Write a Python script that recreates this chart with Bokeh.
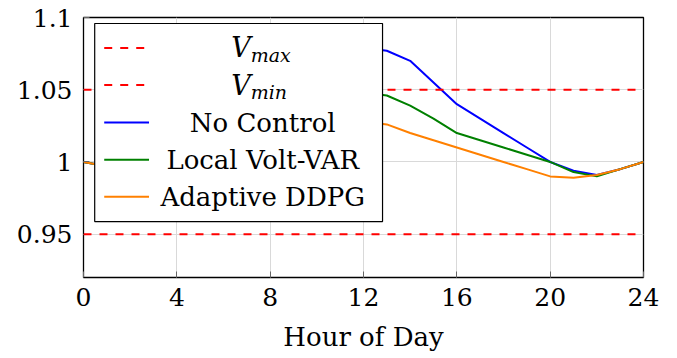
from bokeh.plotting import figure
from bokeh.models import Range1d, FixedTicker, BoxAnnotation, Span
from bokeh.core.properties import value
from bokeh.embed import file_html
from bokeh.resources import INLINE

# ---------------- data ----------------
hours = list(range(25))
no_control = [1.000, 0.997, 0.995, 0.994, 0.994, 0.996, 1.000, 1.010, 1.025, 1.045,
              1.062, 1.074, 1.079, 1.077, 1.070, 1.055, 1.040, 1.030, 1.020, 1.010,
              1.000, 0.994, 0.991, 0.995, 1.000]
local_volt_var = [1.000, 0.997, 0.995, 0.994, 0.994, 0.996, 1.000, 1.006, 1.015, 1.027,
                  1.037, 1.044, 1.048, 1.046, 1.039, 1.030, 1.020, 1.015, 1.010, 1.005,
                  1.000, 0.993, 0.990, 0.995, 1.000]
adaptive_ddpg = [1.000, 0.997, 0.995, 0.994, 0.994, 0.996, 1.000, 1.004, 1.010, 1.017,
                 1.022, 1.026, 1.028, 1.026, 1.020, 1.015, 1.010, 1.005, 1.000, 0.995,
                 0.990, 0.989, 0.991, 0.995, 1.000]
v_max = 1.05
v_min = 0.95
x_ticks = [0, 4, 8, 12, 16, 20, 24]
x_tick_labels = ["0", "4", "8", "12", "16", "20", "24"]
y_ticks = [0.95, 1.0, 1.05, 1.1]
y_tick_labels = ["0.95", "1", "1.05", "1.1"]
series_names = ["No Control", "Local Volt-VAR", "Adaptive DDPG"]
series_colors = ["#0000ff", "#008000", "#ff8000"]
x_label = "Hour of Day"

X0, X1 = 0, 24
Y0, Y1 = 0.92, 1.1
FONT = "DejaVu Serif"

p = figure(width=661, height=358, output_backend="svg", toolbar_location=None,
           x_range=Range1d(X0, X1), y_range=Range1d(Y0, Y1),
           min_border_left=83, min_border_right=18, min_border_top=17, min_border_bottom=81)
p.background_fill_color = "white"
p.border_fill_color = "white"
p.outline_line_color = "black"
p.outline_line_width = 1.3

for ax in (p.xaxis[0], p.yaxis[0]):
    ax.axis_line_color = None
    ax.major_tick_in = 6
    ax.major_tick_out = 0
    ax.major_tick_line_color = "#666666"
    ax.minor_tick_line_color = None
    ax.major_label_text_font = FONT
    ax.major_label_text_font_size = "25px"
    ax.major_label_text_color = "black"

p.xaxis[0].ticker = FixedTicker(ticks=x_ticks)
p.xaxis[0].major_label_overrides = {t: s for t, s in zip(x_ticks, x_tick_labels)}
p.xaxis[0].major_label_standoff = 10
p.xaxis[0].axis_label = x_label
p.xaxis[0].axis_label_text_font = FONT
p.xaxis[0].axis_label_text_font_style = "normal"
p.xaxis[0].axis_label_text_color = "black"
p.xaxis[0].axis_label_text_font_size = "26px"
p.xaxis[0].axis_label_standoff = 13
p.yaxis[0].ticker = FixedTicker(ticks=y_ticks)
p.yaxis[0].major_label_overrides = {t: s for t, s in zip(y_ticks, y_tick_labels)}
p.yaxis[0].major_label_standoff = 11

p.xgrid[0].ticker = FixedTicker(ticks=x_ticks)
p.ygrid[0].ticker = FixedTicker(ticks=y_ticks)
p.grid.grid_line_color = "#d9d9d9"
p.grid.grid_line_width = 1

# reference limits
for lim in (v_max, v_min):
    p.add_layout(Span(location=lim, dimension="width", line_color="#ff0000",
                      line_width=2, line_dash="8 8"))

# series
for vals, col in zip([no_control, local_volt_var, adaptive_ddpg], series_colors):
    p.line(hours, vals, line_color=col, line_width=2)

# ---------------- hand-built legend (frame fractions) ----------------
def fx(f):
    return X0 + f * (X1 - X0)

def fy(f_top):
    return Y1 - f_top * (Y1 - Y0)

p.add_layout(BoxAnnotation(left=fx(0.020), right=fx(0.534), top=fy(0.023), bottom=fy(0.785),
                           fill_color="white", fill_alpha=1.0,
                           line_color="black", line_width=1.2, line_alpha=1.0))

row_f = [0.117, 0.260, 0.404, 0.547, 0.689]
text_cx = 0.320

for i in range(2):
    r = p.line([fx(0.037), fx(0.110)], [fy(row_f[i])] * 2, line_color="#ff0000",
               line_width=2, line_dash="8 8")
    r.level = "overlay"
sub_labels = ["max", "min"]
for i, sub in enumerate(sub_labels):
    r = p.text(x=[fx(0.2985)], y=[fy(row_f[i])], text=["V"], text_font=value(FONT),
               text_font_style="italic", text_font_size="27px", text_align="right",
               text_baseline="middle", text_color="black")
    r.level = "overlay"
    r = p.text(x=[fx(0.2985)], y=[fy(row_f[i])], text=[sub], text_font=value(FONT),
               text_font_style="italic", text_font_size="19px", text_align="left",
               text_baseline="middle", text_color="black", y_offset=7)
    r.level = "overlay"

for j, (name, col) in enumerate(zip(series_names, series_colors)):
    yy = fy(row_f[2 + j])
    r = p.line([fx(0.037), fx(0.117)], [yy, yy], line_color=col, line_width=2)
    r.level = "overlay"
    r = p.text(x=[fx(text_cx)], y=[yy], text=[name], text_font=value(FONT),
               text_font_size="26px", text_align="center", text_baseline="middle",
               text_color="black")
    r.level = "overlay"

open("out.html", "w").write(file_html(p, INLINE))
